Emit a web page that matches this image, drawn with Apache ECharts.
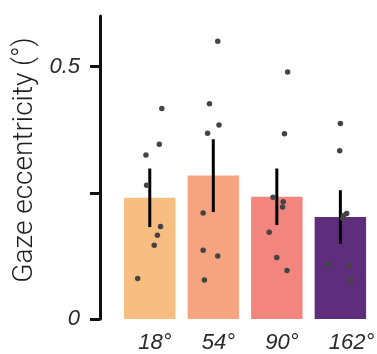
<!DOCTYPE html>
<html>
<head>
<meta charset="utf-8">
<script src="https://cdn.jsdelivr.net/npm/echarts@6/dist/echarts.min.js"></script>
<style>
  html, body { margin: 0; padding: 0; background: #ffffff; }
  #chart { width: 377px; height: 354px; }
</style>
</head>
<body>
<div id="chart"></div>
<script>
// Stimulus angle conditions
const categories = ['18°', '54°', '90°', '162°'];
// Mean gaze eccentricity per condition (°)
const means = [0.240, 0.284, 0.242, 0.202];
// Error bar half-length per condition
const errors = [0.058, 0.072, 0.056, 0.053];
// Bar colours per condition
const barColors = ['#F8BD80', '#F6A37F', '#F2857D', '#5E2D7B'];
// Individual participant values per condition
const points18 = [0.417, 0.346, 0.325, 0.265, 0.183, 0.166, 0.146, 0.080];
const points54 = [0.550, 0.426, 0.384, 0.368, 0.210, 0.136, 0.125, 0.077];
const points90 = [0.489, 0.367, 0.241, 0.232, 0.222, 0.172, 0.122, 0.096];
const points162 = [0.387, 0.333, 0.209, 0.205, 0.199, 0.108, 0.106, 0.075];
// Horizontal jitter of each point, in category widths
const jitter18 = [0.19, 0.15, -0.06, -0.05, 0.17, 0.12, 0.07, -0.19];
const jitter54 = [0.07, -0.06, 0.09, -0.09, -0.16, -0.16, 0.07, -0.14];
const jitter90 = [0.17, 0.12, -0.06, 0.10, 0.09, -0.12, 0.00, 0.16];
const jitter162 = [0.00, -0.01, 0.10, 0.05, 0.04, -0.19, 0.14, 0.16];
// Y axis ticks
const yTicks = [0, 0.25, 0.5];
const yTickLabels = [0, 0.5];

const pointGroups = [points18, points54, points90, points162];
const jitterGroups = [jitter18, jitter54, jitter90, jitter162];

const scatterData = [];
pointGroups.forEach((grp, i) => {
  grp.forEach((v, j) => scatterData.push([i + jitterGroups[i][j], v]));
});

const errorData = means.map((m, i) => [i, m - errors[i], m + errors[i]]);

const chart = echarts.init(document.getElementById('chart'), null, { renderer: 'canvas' });

chart.setOption({
  animation: false,
  backgroundColor: '#ffffff',
  grid: { left: 118, right: 2, top: 16, bottom: 35, containLabel: false },
  xAxis: [
    {
      type: 'category',
      data: categories,
      axisLine: { show: false },
      axisTick: { show: false },
      axisLabel: {
        margin: 13,
        formatter: v => '{a|' + v + '}',
        rich: {
          a: {
            width: 23,
            align: 'left',
            fontSize: 22,
            fontStyle: 'italic',
            fontFamily: 'Liberation Sans, Arial, sans-serif',
            color: '#2a2a2a'
          }
        }
      }
    },
    {
      type: 'value',
      min: -0.5,
      max: 3.5,
      show: false
    }
  ],
  yAxis: {
    type: 'value',
    min: 0,
    max: 0.6,
    offset: 18,
    splitLine: { show: false },
    axisLine: { show: true, onZero: false, lineStyle: { color: '#111', width: 3 } },
    axisTick: {
      show: true,
      length: 10,
      customValues: yTicks,
      lineStyle: { color: '#111', width: 3 }
    },
    axisLabel: {
      margin: 20,
      customValues: yTickLabels,
      formatter: v => String(v),
      fontSize: 22,
      fontStyle: 'italic',
      fontFamily: 'Liberation Sans, Arial, sans-serif',
      color: '#2a2a2a'
    },
    name: 'Gaze eccentricity (°)',
    nameLocation: 'middle',
    nameGap: 52,
    nameTextStyle: {
      fontSize: 28,
      fontWeight: 300,
      fontFamily: 'Roboto, Liberation Sans, sans-serif',
      color: '#1e1e1e',
      padding: [0, 0, 0, 15]
    }
  },
  series: [
    {
      type: 'bar',
      data: means.map((m, i) => ({ value: m, itemStyle: { color: barColors[i] } })),
      barWidth: '81%',
      xAxisIndex: 0,
      z: 1
    },
    {
      type: 'custom',
      xAxisIndex: 0,
      data: errorData,
      z: 2,
      renderItem: (params, api) => {
        const lo = api.coord([api.value(0), api.value(1)]);
        const hi = api.coord([api.value(0), api.value(2)]);
        return {
          type: 'line',
          shape: { x1: lo[0], y1: lo[1], x2: hi[0], y2: hi[1] },
          style: { stroke: '#000', lineWidth: 3 }
        };
      }
    },
    {
      type: 'scatter',
      xAxisIndex: 1,
      data: scatterData,
      symbolSize: 5.5,
      itemStyle: { color: '#444444', opacity: 1 },
      z: 3
    }
  ]
});
</script>
</body>
</html>
